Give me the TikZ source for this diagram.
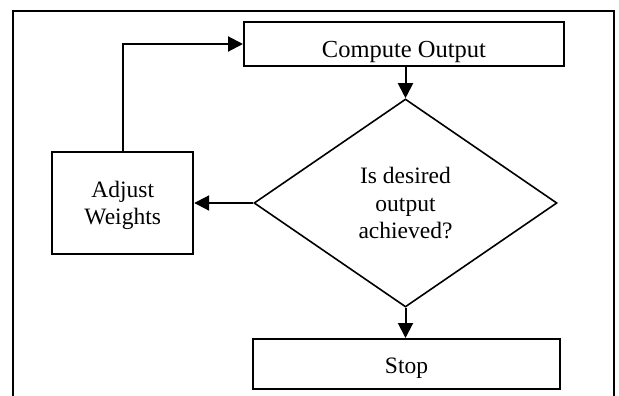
\documentclass[tikz,border=0pt]{standalone}
\usepackage{fontspec}
\setmainfont{Liberation Serif}
\usetikzlibrary{shapes.geometric,arrows.meta}
\begin{document}
\begin{tikzpicture}[x=1pt,y=-1pt,
  txt/.style={font=\fontsize{23.5}{27.5}\selectfont},
  box/.style={draw,line width=2pt,inner sep=0pt,align=center,txt},
  decision/.style={draw,diamond,line width=1.6pt,inner sep=0pt,align=center,aspect=1.457,
    minimum width=303pt,minimum height=208pt,txt},
  conn/.style={line width=2pt,-{Triangle[length=15pt,width=15pt]}},
  frame/.style={line width=1.6pt}]
\useasboundingbox (0,0) rectangle (619,396);
\fill[white] (0,0) rectangle (619,396);
\draw[frame] (13,396) -- (13,11) -- (614,11) -- (614,396);
\node[box,minimum width=320pt,minimum height=44pt,text height=28pt,text depth=0pt,
  font=\fontsize{24.5}{28}\selectfont] (compute) at (404,44) {Compute Output};
\node[decision,text depth=0pt] (dec) at (405.5,203) {Is desired\\output\\achieved?};
\node[box,minimum width=141pt,minimum height=102pt,text depth=0pt] (adjust) at (122.7,203) {Adjust\\Weights};
\node[box,minimum width=307pt,minimum height=50pt,text height=18pt,text depth=0pt] (stop) at (406.5,364) {Stop};
\draw[conn] (compute.south -| dec.north) -- (dec.north);
\draw[conn] (dec.west) -- (adjust.east);
\draw[conn] (dec.south) -- (dec.south |- stop.north);
\draw[conn] (adjust.north) |- (compute.west);
\end{tikzpicture}
\end{document}
